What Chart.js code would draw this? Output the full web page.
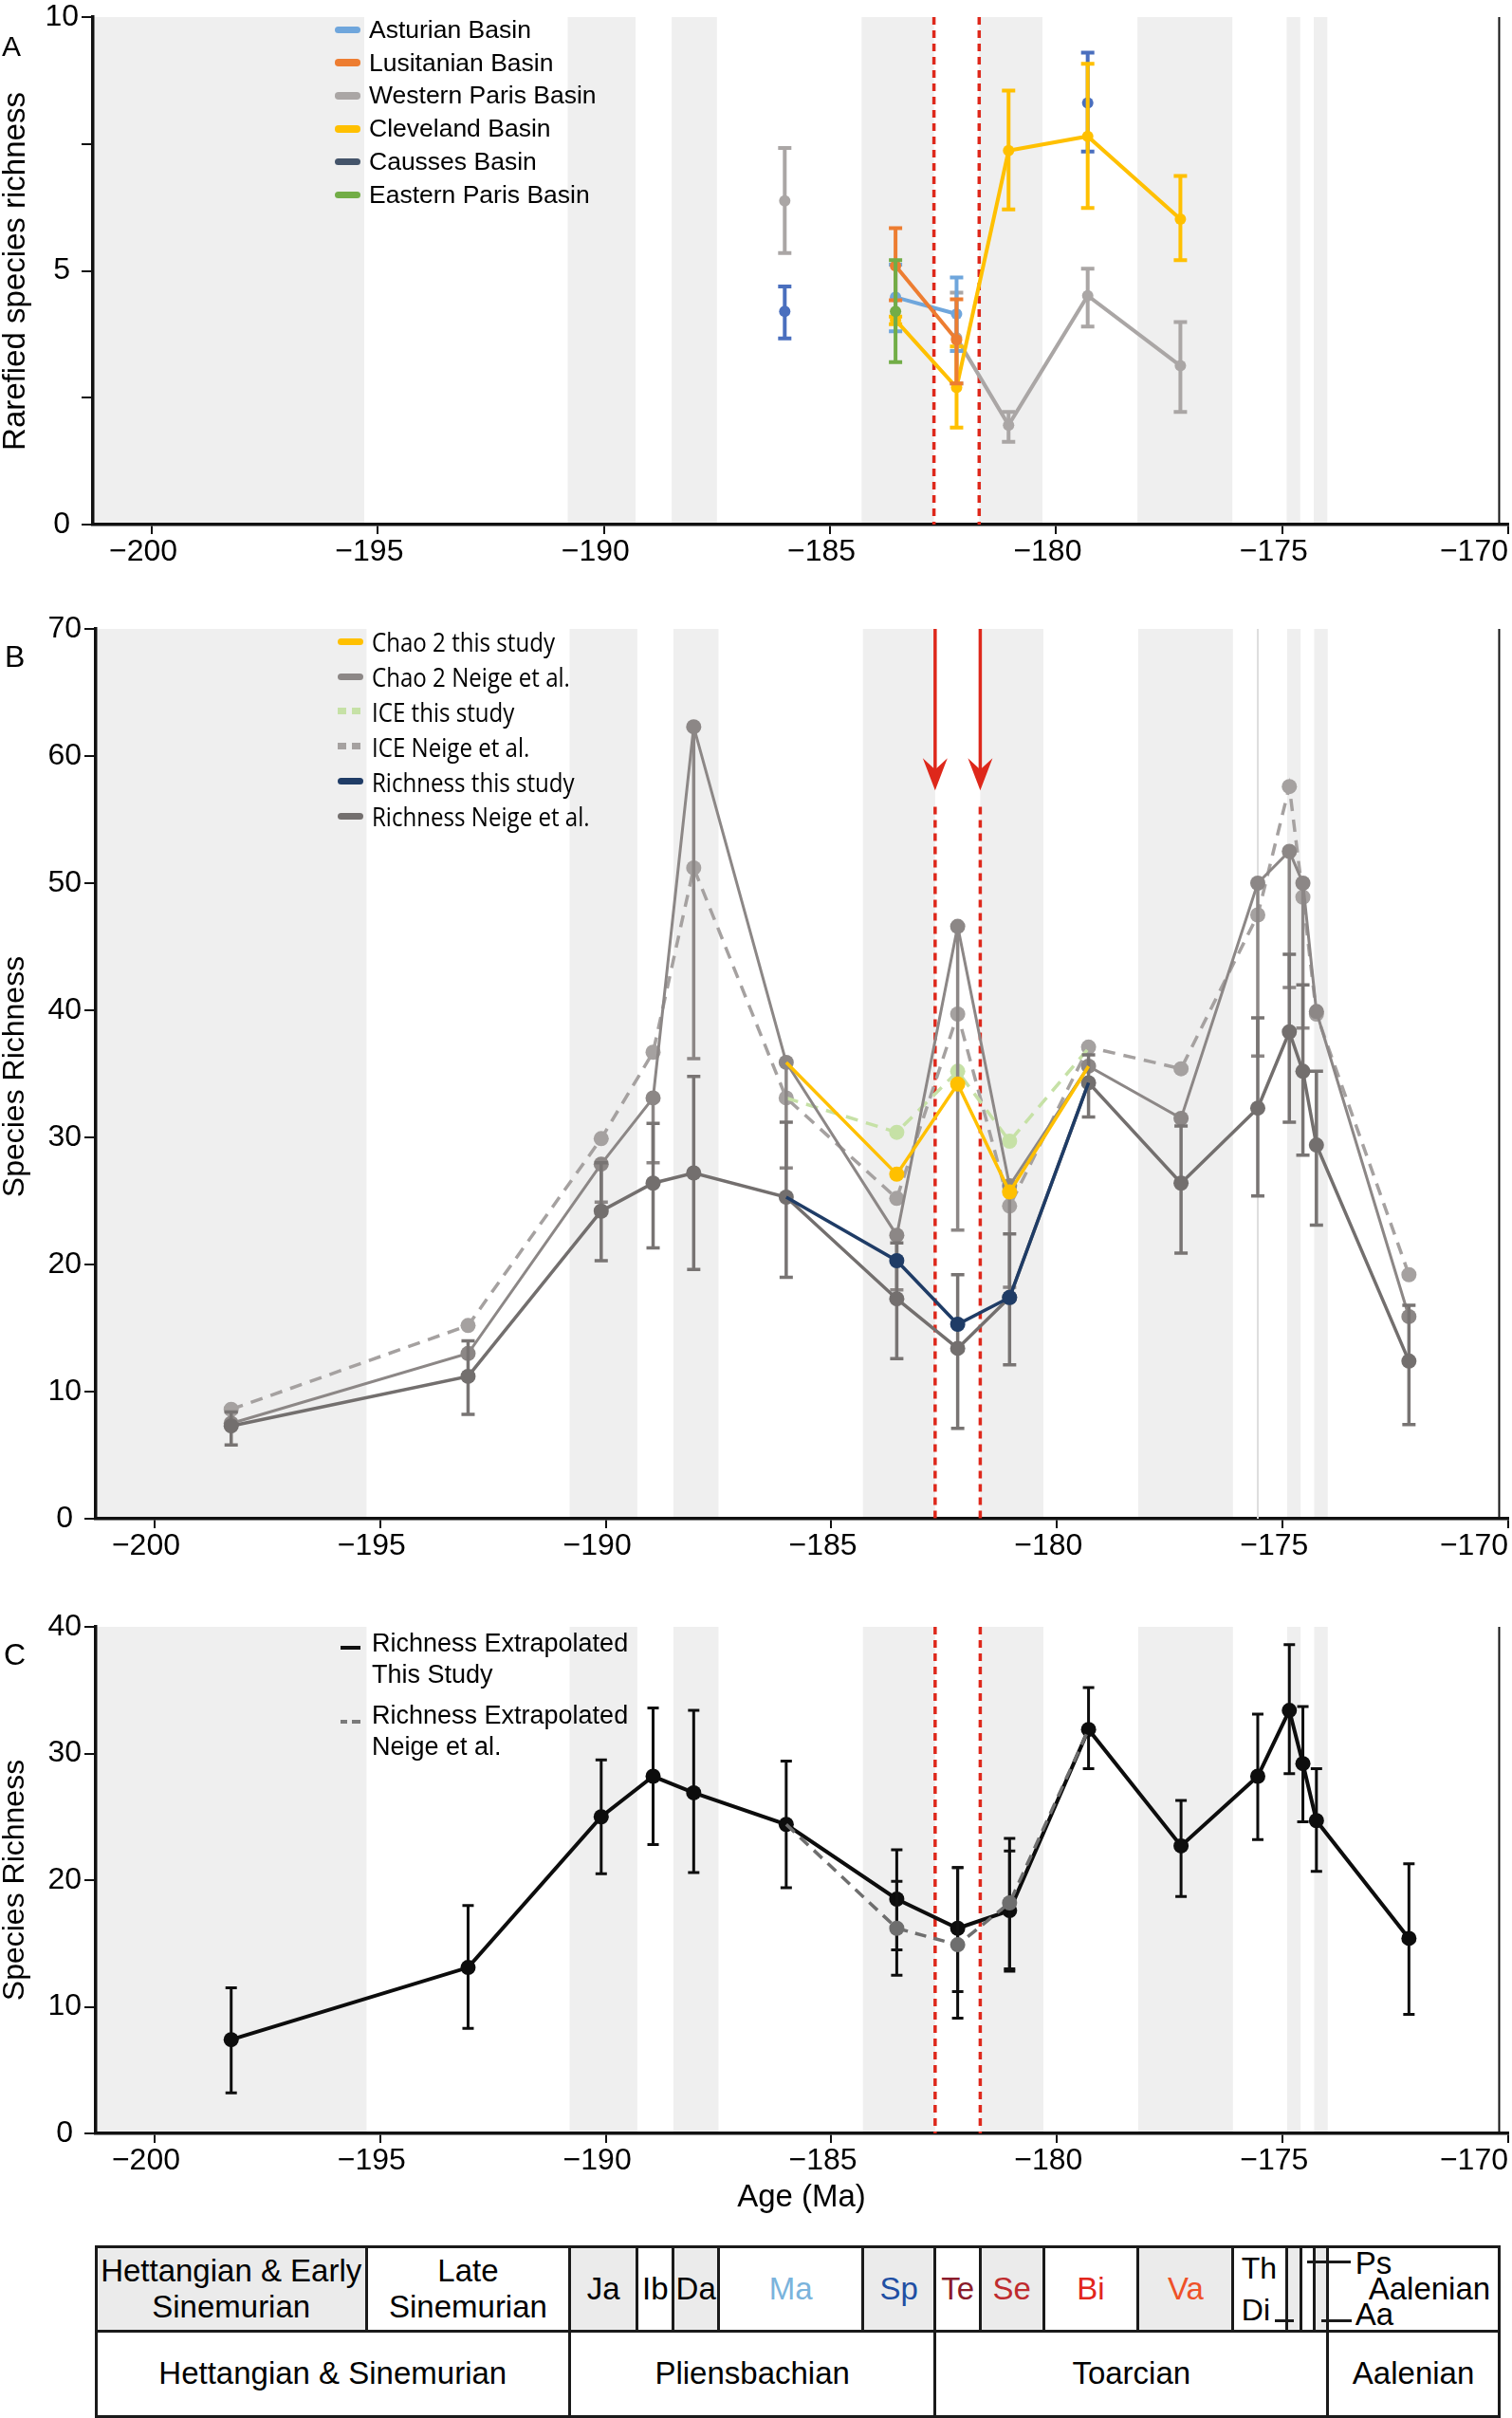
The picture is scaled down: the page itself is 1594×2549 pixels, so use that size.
<!DOCTYPE html>
<html>
<head>
<meta charset="utf-8">
<script src="https://cdn.jsdelivr.net/npm/chart.js@4.4.1/dist/chart.umd.min.js"></script>
<style>
  body { margin: 0; background: #fff; }
  #page { position: relative; width: 1594px; height: 2549px; overflow: hidden; font-family: 'Liberation Sans', Arial, sans-serif; color: #000; }
  #page canvas { position: absolute; left: 0; }
  .t { position: absolute; white-space: nowrap; line-height: 1; }
  .rot { position: absolute; white-space: nowrap; line-height: 1; transform: translate(-50%, -50%) rotate(-90deg); }
  .legend { position: absolute; }
  .legend .row { display: flex; align-items: center; white-space: nowrap; }
  .sw { display: inline-block; flex: none; }
  .cell { position: absolute; display: flex; align-items: center; justify-content: center; text-align: center; box-sizing: border-box; line-height: 38px; font-size: 33px; }
  .rule { position: absolute; background: #1a1a1a; }
</style>
</head>
<body>
<div id="page">
  <canvas id="chartA" width="1594" height="620" style="top:0px"></canvas>
  <canvas id="chartB" width="1594" height="1050" style="top:620px"></canvas>
  <canvas id="chartC" width="1594" height="640" style="top:1670px"></canvas>

  <div class="t" style="left:2px;top:34px;font-size:30px">A</div>
  <div class="t" style="left:5px;top:676px;font-size:32px">B</div>
  <div class="t" style="left:4px;top:1728px;font-size:32px">C</div>

  <div class="rot" style="left:14px;top:286px;font-size:33px">Rarefied species richness</div>
  <div class="rot" style="left:14px;top:1135px;font-size:32px">Species Richness</div>
  <div class="rot" style="left:14px;top:1982px;font-size:32px">Species Richness</div>
  <div class="t" style="left:845px;top:2314px;font-size:33px;transform:translate(-50%,-50%)">Age (Ma)</div>

  <div id="legendA" class="legend" style="left:353px;top:14px;font-size:26.5px"></div>
  <div id="legendB" class="legend" style="left:356px;top:658px;font-size:28px;font-family:'Open Sans','Noto Sans',sans-serif"></div>
  <div id="legendC" class="legend" style="left:359px;top:1716px;font-size:27px;line-height:33px">
    <div style="position:absolute;left:0;top:19px;width:21px;height:4px;background:#111"></div>
    <div style="position:absolute;left:33px;top:0;white-space:nowrap">Richness Extrapolated<br>This Study</div>
    <div style="position:absolute;left:0;top:97px;width:7px;height:4px;background:#7a7a7a"></div>
    <div style="position:absolute;left:12px;top:97px;width:9px;height:4px;background:#7a7a7a"></div>
    <div style="position:absolute;left:33px;top:76px;white-space:nowrap">Richness Extrapolated<br>Neige et al.</div>
  </div>
  <div id="timescale"></div>
</div>

<script>
// shared age axis (Ma, negative = before present)
const xMin = -201.3, xMax = -170;
const xTicks = [-201.3, -200, -195, -190, -185, -180, -175, -170];
const redLines = [-182.7, -181.7];
const rightEdge = -170.2;

// ammonite zones and stages
const zoneEdges = [-201.3, -195.3, -190.8, -189.3, -188.5, -187.5, -184.3, -182.7, -181.7, -180.3, -178.2, -176.1, -174.9, -174.6, -174.3, -174.0, -170.2];
const zoneLabels = ['Hettangian &amp; Early<br>Sinemurian', 'Late<br>Sinemurian', 'Ja', 'Ib', 'Da', 'Ma', 'Sp', 'Te', 'Se', 'Bi', 'Va', 'Th<br>Di', '', '', '', 'Aalenian'];
const zoneShaded = [1, 0, 1, 0, 1, 0, 1, 0, 1, 0, 1, 0, 1, 0, 1, 0];
const zoneColors = ['#000', '#000', '#000', '#000', '#000', '#7ab3dc', '#1f4fa3', '#8a1b2b', '#bf2b2e', '#e2261c', '#ef5128', '#000', '#000', '#000', '#000', '#000'];
const stageEdges = [-201.3, -190.8, -182.7, -174.0, -170.2];
const stageLabels = ['Hettangian &amp; Sinemurian', 'Pliensbachian', 'Toarcian', 'Aalenian'];

// panel A: rarefied richness per basin
const agesA = [-186.0, -183.55, -182.2, -181.05, -179.3, -177.25];
const asturian = [null, 4.48, 4.15, null, null, null];
const asturianLo = [null, 3.81, 3.42, null, null, null];
const asturianHi = [null, 5.12, 4.87, null, null, null];
const lusitanian = [null, 5.10, 3.64, null, null, null];
const lusitanianLo = [null, 4.42, 2.78, null, null, null];
const lusitanianHi = [null, 5.84, 4.44, null, null, null];
const westParis = [6.38, null, 3.68, 1.96, 4.51, 3.13];
const westParisLo = [5.35, null, 2.78, 1.63, 3.90, 2.22];
const westParisHi = [7.42, null, 4.57, 2.22, 5.04, 3.99];
const cleveland = [null, 4.03, 2.70, 7.37, 7.65, 6.02];
const clevelandLo = [null, 3.95, 1.91, 6.21, 6.24, 5.21];
const clevelandHi = [null, 4.10, 3.51, 8.55, 9.08, 6.87];
const causses = [4.20, null, null, null, 8.31, null];
const caussesLo = [3.67, null, null, null, 7.35, null];
const caussesHi = [4.69, null, null, null, 9.30, null];
const eastParis = [null, 4.20, null, null, null, null];
const eastParisLo = [null, 3.20, null, null, null, null];
const eastParisHi = [null, 5.21, null, null, null, null];

// panels B and C share these ages
const ages = [-198.3, -193.05, -190.1, -188.95, -188.05, -186.0, -183.55, -182.2, -181.05, -179.3, -177.25, -175.55, -174.85, -174.55, -174.25, -172.2];
const chao2This = [null, null, null, null, null, 35.9, 27.1, 34.2, 25.7, 35.6, null, null, null, null, null, null];
const chao2Neige = [7.5, 13.0, 27.9, 33.1, 62.3, 35.9, 22.3, 46.6, 26.2, 35.6, 31.5, 50.0, 52.5, 50.0, 39.9, 15.9];
const chao2NeigeLo = [null, null, 24.9, 28.0, 36.2, 27.6, 18.0, 22.7, 18.2, null, null, 36.4, 41.8, 38.6, null, null];
const iceThis = [null, null, null, null, null, 33.1, 30.4, 35.2, 29.7, 37.0, null, null, null, null, null, null];
const iceNeige = [8.6, 15.2, 29.9, 36.7, 51.2, 33.1, 25.2, 39.7, 24.6, 37.1, 35.4, 47.5, 57.6, 48.9, 39.7, 19.2];
const richThis = [null, null, null, null, null, 25.3, 20.3, 15.3, 17.4, 34.3, null, null, null, null, null, null];
const richNeige = [7.3, 11.2, 24.2, 26.4, 27.2, 25.3, 17.3, 13.4, 17.4, 34.3, 26.4, 32.3, 38.3, 35.2, 29.4, 12.4];
const richNeigeLo = [5.8, 8.2, 20.3, 21.3, 19.6, 19.0, 12.6, 7.1, 12.1, 31.6, 20.9, 25.4, 31.2, 28.6, 23.1, 7.4];
const richNeigeHi = [8.4, 14.0, 28.0, 31.1, 34.8, 31.2, 21.7, 19.2, 22.4, 36.5, 30.9, 39.4, 44.4, 42.0, 35.2, 16.8];

// panel C: extrapolated richness
const extThis = [7.4, 13.1, 25.0, 28.2, 26.9, 24.4, 18.5, 16.2, 17.6, 31.9, 22.7, 28.2, 33.4, 29.2, 24.7, 15.4];
const extThisLo = [3.2, 8.3, 20.5, 22.8, 20.6, 19.4, 12.5, 9.1, 12.8, 28.8, 18.7, 23.2, 28.4, 24.6, 20.7, 9.4];
const extThisHi = [11.5, 18.0, 29.5, 33.6, 33.4, 29.4, 22.4, 21.0, 23.3, 35.2, 26.3, 33.1, 38.6, 33.7, 28.8, 21.3];
const extNeige = [null, null, null, null, null, 24.4, 16.2, 14.9, 18.2, 31.9, null, null, null, null, null, null];
const extNeigeLo = [null, null, null, null, null, null, 14.5, 11.2, 13.0, null, null, null, null, null, null, null];
const extNeigeHi = [null, null, null, null, null, null, 19.9, 21.0, 22.3, null, null, null, null, null, null, null];

const pts = (xs, ys) => xs.map((x, i) => ({x, y: ys[i]}));
// hide the end points of a partial series (they sit on the Neige et al. points)
const innerOnly = (vals, r) => vals.map((v, i) => {
  const first = vals.findIndex(u => u != null);
  const last = vals.length - 1 - [...vals].reverse().findIndex(u => u != null);
  return (i === first || i === last) ? 0 : r;
});

const tickFont = {family: "'Liberation Sans', Arial, sans-serif", size: 32};
// the minus sign hangs to the left of the centred digits
const xLabel = v => {
  if (!Number.isInteger(v)) return '';
  return v === xMax ? '\u2212' + Math.abs(v) : '\u2212' + Math.abs(v) + '\u2007';
};

const bandsPlugin = {
  id: 'bands',
  beforeDraw(chart) {
    const {ctx, chartArea: a, scales: {x}} = chart;
    ctx.save();
    ctx.fillStyle = '#efefef';
    zoneShaded.forEach((s, i) => {
      if (!s) return;
      const x0 = x.getPixelForValue(zoneEdges[i]), x1 = x.getPixelForValue(zoneEdges[i + 1]);
      ctx.fillRect(x0, a.top, x1 - x0, a.bottom - a.top);
    });
    ctx.restore();
  }
};

const marksPlugin = {
  id: 'marks',
  beforeDatasetsDraw(chart, args, opts) {
    const {ctx, chartArea: a, scales: {x, y}} = chart;
    const vline = (px, y0, y1) => { ctx.beginPath(); ctx.moveTo(px, y0); ctx.lineTo(px, y1); ctx.stroke(); };
    ctx.save();
    if (opts.paleLine != null) {
      ctx.strokeStyle = '#dedede'; ctx.lineWidth = 2;
      vline(x.getPixelForValue(opts.paleLine), a.top, a.bottom);
    }
    ctx.strokeStyle = '#111'; ctx.lineWidth = 2;
    vline(x.getPixelForValue(rightEdge), a.top, a.bottom);
    ctx.strokeStyle = '#de281b'; ctx.fillStyle = '#de281b'; ctx.lineWidth = 3.5;
    for (const v of redLines) {
      const px = x.getPixelForValue(v);
      let top = a.top;
      if (opts.arrowTip != null) {
        const tip = y.getPixelForValue(opts.arrowTip);
        ctx.setLineDash([]);
        vline(px, a.top, tip - 20);
        ctx.beginPath();
        ctx.moveTo(px, tip); ctx.lineTo(px - 13, tip - 34); ctx.lineTo(px, tip - 22); ctx.lineTo(px + 13, tip - 34);
        ctx.closePath(); ctx.fill();
        top = y.getPixelForValue(opts.dashTop);
      }
      ctx.setLineDash([8, 6]);
      vline(px, top, a.bottom);
    }
    ctx.restore();
  }
};

const errorBarsPlugin = {
  id: 'errorBars',
  beforeDatasetDraw(chart, args) {
    const ds = chart.data.datasets[args.index];
    if (!ds.errLow && !ds.errHigh) return;
    const {ctx, scales: {x, y}} = chart;
    const c = ds.capHalf || 7;
    ctx.save();
    ctx.strokeStyle = ds.errColor || ds.borderColor;
    ctx.lineWidth = ds.errWidth || 3;
    ds.data.forEach((p, i) => {
      const lo = ds.errLow ? ds.errLow[i] : null, hi = ds.errHigh ? ds.errHigh[i] : null;
      if (p.y == null || (lo == null && hi == null)) return;
      const px = x.getPixelForValue(p.x);
      const top = y.getPixelForValue(hi != null ? hi : p.y);
      const bot = y.getPixelForValue(lo != null ? lo : p.y);
      ctx.beginPath();
      ctx.moveTo(px, top); ctx.lineTo(px, bot);
      if (hi != null) { ctx.moveTo(px - c, top); ctx.lineTo(px + c, top); }
      if (lo != null) { ctx.moveTo(px - c, bot); ctx.lineTo(px + c, bot); }
      ctx.stroke();
    });
    ctx.restore();
  }
};

function makeChart(id, cfg) {
  return new Chart(document.getElementById(id), {
    type: 'line',
    data: {datasets: cfg.datasets},
    options: {
      responsive: false,
      animation: false,
      devicePixelRatio: 1,
      events: [],
      layout: {autoPadding: false, padding: {top: cfg.top, right: 4, left: 0, bottom: 0}},
      plugins: {legend: {display: false}, tooltip: {enabled: false}, marks: cfg.marks || {}},
      scales: {
        x: {
          type: 'linear', min: xMin, max: xMax,
          afterBuildTicks: s => { s.ticks = xTicks.map(v => ({value: v})); },
          afterFit: s => { s.height = cfg.xH; s.paddingLeft = 0; s.paddingRight = 0; },
          ticks: {align: 'inner', autoSkip: false, maxRotation: 0, padding: 0, color: '#000', font: tickFont,
                  callback: xLabel},
          grid: {drawOnChartArea: false, tickLength: 10, lineWidth: 2,
                 color: c => (c.tick && Number.isInteger(c.tick.value)) ? '#111' : 'rgba(0,0,0,0)'},
          border: {color: '#111', width: 3.5}
        },
        y: {
          min: 0, max: cfg.yMax,
          afterFit: s => { s.width = cfg.yW; s.paddingTop = 0; s.paddingBottom = 0; },
          ticks: {stepSize: cfg.yStep, crossAlign: 'center', padding: 3, color: '#000', font: tickFont,
                  callback: v => v % cfg.yLabelEvery === 0 ? v : ''},
          grid: {drawOnChartArea: false, tickLength: 12, lineWidth: 2, color: '#111'},
          border: {color: '#111', width: 3.5}
        }
      }
    },
    plugins: [bandsPlugin, marksPlugin, errorBarsPlugin]
  });
}

function basin(label, vals, lo, hi, color, legendColor, order) {
  return {label, data: pts(agesA, vals), errLow: lo, errHigh: hi, borderColor: color, backgroundColor: color,
          legendColor: legendColor || color, borderWidth: 4, pointRadius: 6, pointBorderWidth: 0,
          errWidth: 4, capHalf: 7, order};
}

const chartA = makeChart('chartA', {
  top: 18, xH: 67, yW: 98, yMax: 10, yStep: 2.5, yLabelEvery: 5,
  marks: {},
  datasets: [
    basin('Asturian Basin', asturian, asturianLo, asturianHi, '#6fa6dc', null, 2),
    basin('Lusitanian Basin', lusitanian, lusitanianLo, lusitanianHi, '#ed7d31', null, 1),
    basin('Western Paris Basin', westParis, westParisLo, westParisHi, '#aaa6a5', null, 5),
    basin('Cleveland Basin', cleveland, clevelandLo, clevelandHi, '#ffc000', null, 3),
    basin('Causses Basin', causses, caussesLo, caussesHi, '#4a6fbe', '#44546a', 4),
    basin('Eastern Paris Basin', eastParis, eastParisLo, eastParisHi, '#72ad47', null, 0)
  ]
});

function series(label, vals, color, opts) {
  return Object.assign({label, data: pts(ages, vals), borderColor: color, backgroundColor: color, legendColor: color,
                        borderWidth: 3.5, pointRadius: 8, pointBorderWidth: 0}, opts);
}

const chartB = makeChart('chartB', {
  top: 43, xH: 69, yW: 101, yMax: 70, yStep: 10, yLabelEvery: 10,
  marks: {arrowTip: 57.3, dashTop: 56.0, paleLine: -175.55},
  datasets: [
    series('Chao 2 this study', chao2This, '#ffc000', {order: 1, pointRadius: innerOnly(chao2This, 8)}),
    series('Chao 2 Neige et al.', chao2Neige, '#8c8786', {order: 3, borderWidth: 3, errLow: chao2NeigeLo, errColor: '#8c8786', errWidth: 3.5, capHalf: 7}),
    series('ICE this study', iceThis, '#c6e1a6', {order: 4, borderDash: [13, 9], pointRadius: innerOnly(iceThis, 8), dashed: true}),
    series('ICE Neige et al.', iceNeige, '#a5a1a0', {order: 5, borderDash: [13, 9], dashed: true}),
    series('Richness this study', richThis, '#1f3c66', {order: 0, pointRadius: innerOnly(richThis, 8)}),
    series('Richness Neige et al.', richNeige, '#736f6e', {order: 2, errLow: richNeigeLo, errHigh: richNeigeHi, errColor: '#787473', errWidth: 3.5, capHalf: 7})
  ]
});

const chartC = makeChart('chartC', {
  top: 45, xH: 61, yW: 101, yMax: 40, yStep: 10, yLabelEvery: 10,
  marks: {},
  datasets: [
    series('Richness Extrapolated Neige et al.', extNeige, '#6e6e6e', {order: 0, borderDash: [12, 8], pointRadius: innerOnly(extNeige, 8),
           errLow: extNeigeLo, errHigh: extNeigeHi, errColor: '#111', errWidth: 3, capHalf: 6}),
    series('Richness Extrapolated This Study', extThis, '#0d0d0d', {order: 1, borderWidth: 4,
           errLow: extThisLo, errHigh: extThisHi, errColor: '#0d0d0d', errWidth: 3, capHalf: 6})
  ]
});

function buildLegend(el, datasets, rowH, swW, swH, gap) {
  datasets.forEach(ds => {
    const row = document.createElement('div');
    row.className = 'row';
    row.style.height = rowH + 'px';
    const sw = document.createElement('span');
    sw.className = 'sw';
    sw.style.width = swW + 'px';
    sw.style.height = swH + 'px';
    sw.style.marginRight = gap + 'px';
    const c = ds.legendColor;
    if (ds.dashed) {
      sw.style.background = `linear-gradient(to right, ${c} 0 9px, transparent 9px 15px, ${c} 15px 24px, transparent 24px)`;
    } else {
      sw.style.background = c;
      sw.style.borderRadius = (swH / 2) + 'px';
    }
    const tx = document.createElement('span');
    tx.textContent = ds.label;
    tx.style.display = 'inline-block';
    tx.style.transformOrigin = 'left center';
    row.appendChild(sw); row.appendChild(tx);
    el.appendChild(row);
  });
}
buildLegend(document.getElementById('legendA'), chartA.data.datasets, 34.8, 27, 7.5, 9);
buildLegend(document.getElementById('legendB'), chartB.data.datasets, 36.8, 27, 7, 9);
// the B legend font is a condensed face: squeeze to the measured width
(function () {
  const spans = document.querySelectorAll('#legendB .row span:last-child');
  const k = 193 / spans[0].getBoundingClientRect().width;
  spans.forEach(s => { s.style.transform = `scaleX(${k})`; });
})();

function buildTimescale(xs) {
  const box = document.getElementById('timescale');
  const px = v => xs.getPixelForValue(v);
  const top = 2368, mid = 2457, bot = 2547, lw = 3;
  const add = (cls, css, html) => {
    const d = document.createElement('div');
    d.className = cls;
    Object.assign(d.style, css);
    if (html != null) d.innerHTML = html;
    box.appendChild(d);
    return d;
  };
  zoneLabels.forEach((lab, i) => {
    const l = px(zoneEdges[i]), r = px(zoneEdges[i + 1]);
    const d = add('cell', {left: l + 'px', top: top + 'px', width: (r - l) + 'px', height: (mid - top) + 'px',
                           background: zoneShaded[i] ? '#ebebeb' : '#fff', color: zoneColors[i]}, lab);
    if (lab === 'Th<br>Di') Object.assign(d.style, {justifyContent: 'flex-start', textAlign: 'left', paddingLeft: '9px', lineHeight: '44px', fontSize: '32px'});
    if (lab === 'Aalenian') Object.assign(d.style, {justifyContent: 'flex-start', paddingLeft: '43px'});
  });
  stageLabels.forEach((lab, i) => {
    const l = px(stageEdges[i]), r = px(stageEdges[i + 1]);
    add('cell', {left: l + 'px', top: mid + 'px', width: (r - l) + 'px', height: (bot - mid) + 'px'}, lab);
  });
  const x0 = px(zoneEdges[0]), x1 = px(zoneEdges[zoneEdges.length - 1]);
  [top, mid, bot].forEach(yy => add('rule', {left: (x0 - lw / 2) + 'px', top: (yy - lw / 2) + 'px', width: (x1 - x0 + lw) + 'px', height: lw + 'px'}));
  zoneEdges.forEach(v => add('rule', {left: (px(v) - lw / 2) + 'px', top: top + 'px', width: lw + 'px', height: (mid - top) + 'px'}));
  stageEdges.forEach(v => add('rule', {left: (px(v) - lw / 2) + 'px', top: mid + 'px', width: lw + 'px', height: (bot - mid) + 'px'}));
  // zone name call-outs for the narrow zones
  const aal = px(-174.0);
  add('rule', {left: (px(-176.1) + 44) + 'px', top: '2445px', width: (px(-174.75) - px(-176.1) - 44) + 'px', height: '3px'});
  add('rule', {left: px(-174.45) + 'px', top: '2383px', width: (aal + 24 - px(-174.45)) + 'px', height: '3px'});
  add('rule', {left: px(-174.15) + 'px', top: '2445px', width: (aal + 25 - px(-174.15)) + 'px', height: '3px'});
  add('t', {left: (aal + 29) + 'px', top: '2369px', fontSize: '33px'}, 'Ps');
  add('t', {left: (aal + 29) + 'px', top: '2423px', fontSize: '33px'}, 'Aa');
}
buildTimescale(chartC.scales.x);
</script>
</body>
</html>
